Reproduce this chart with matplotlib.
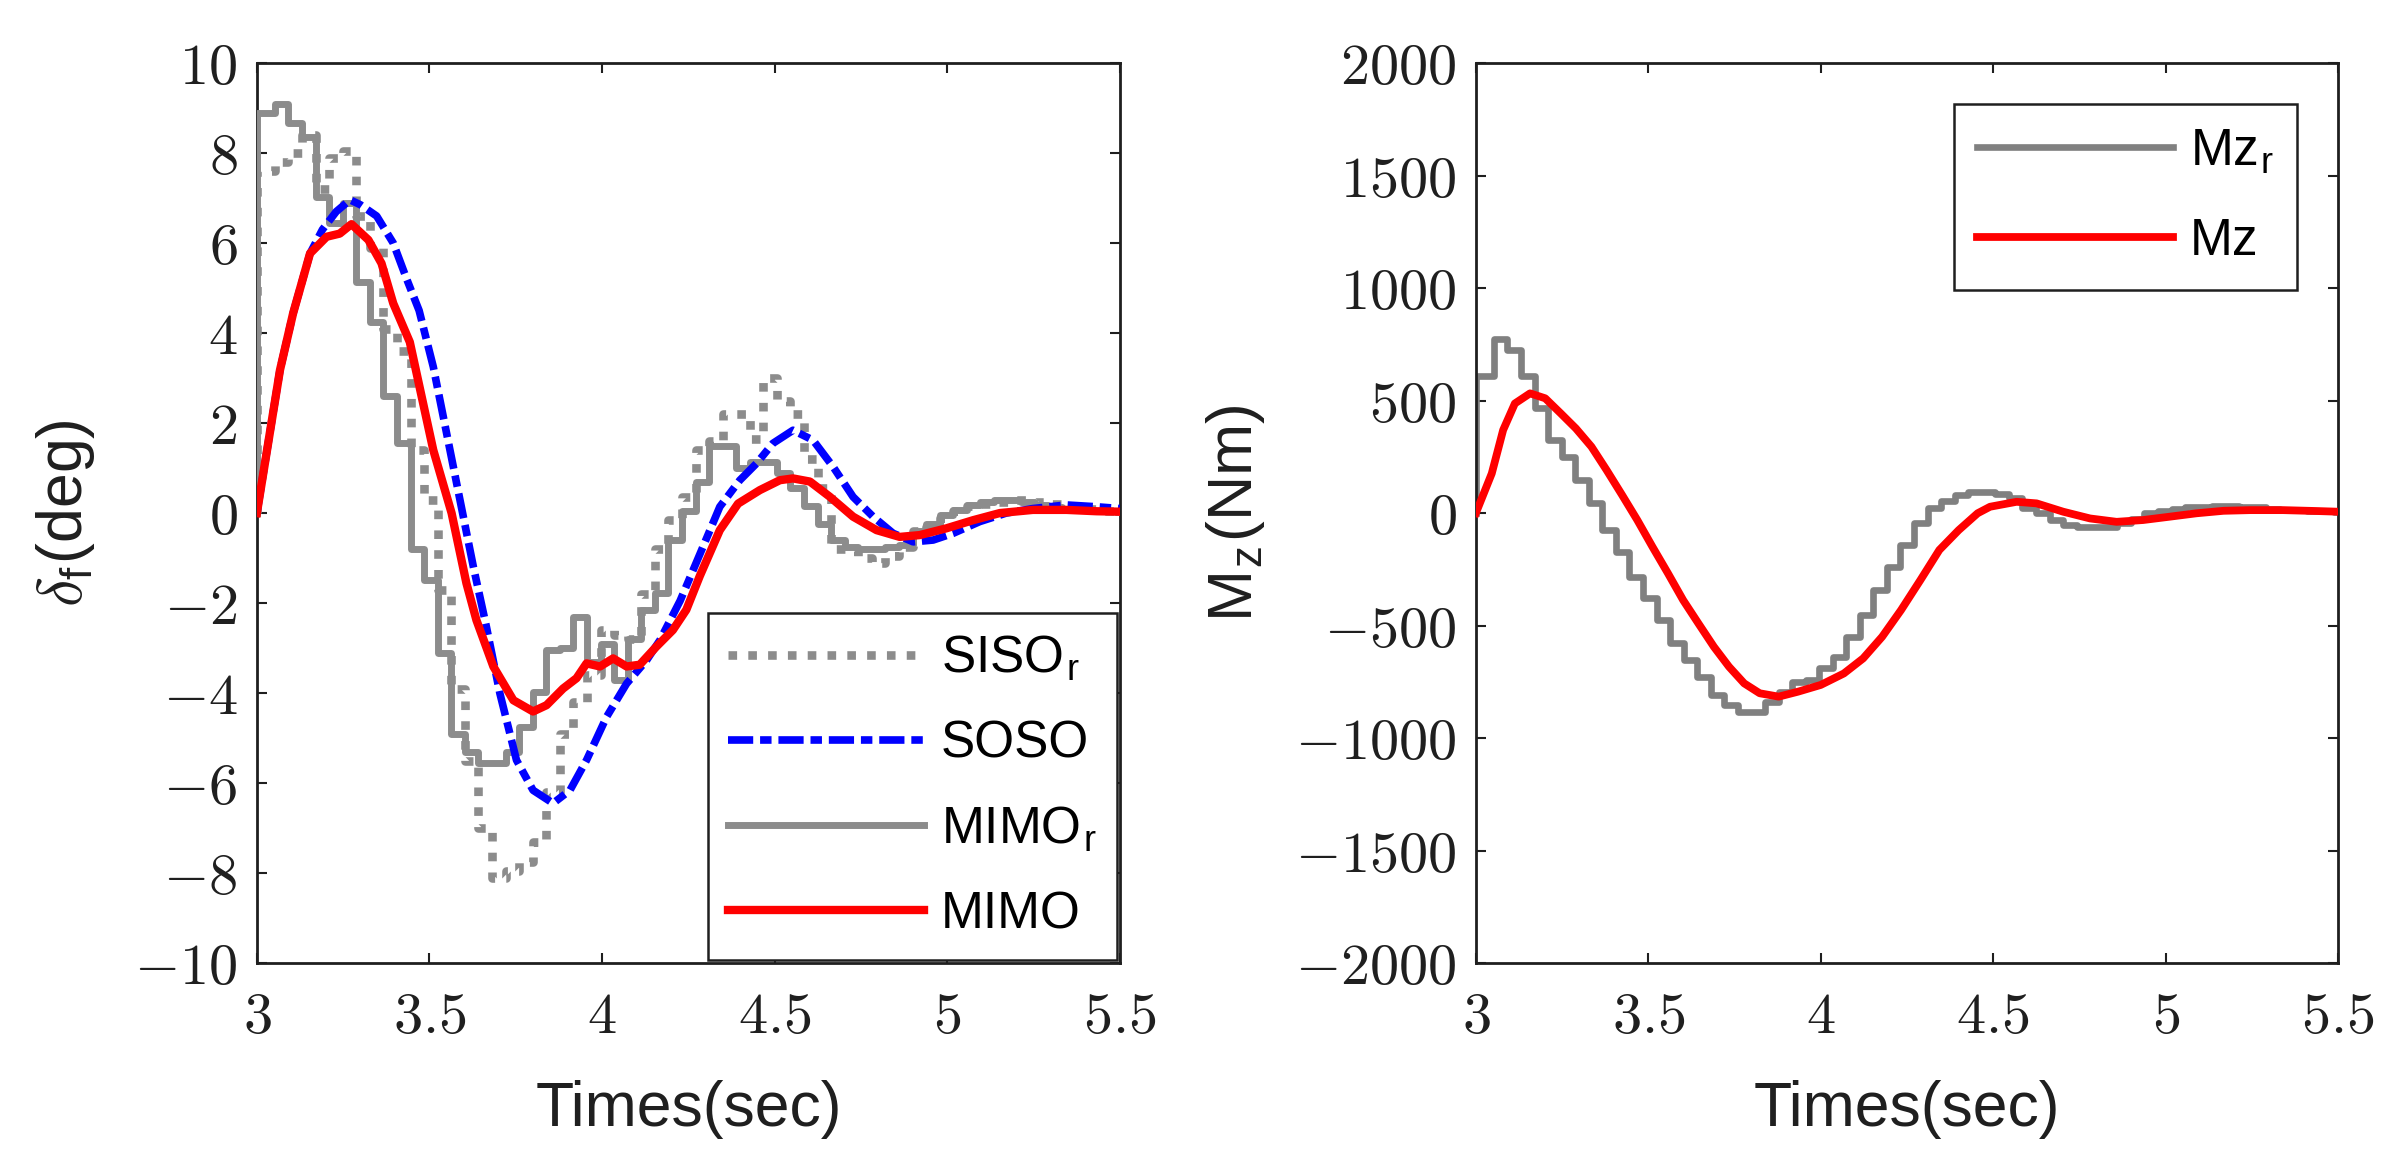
import numpy as np
import matplotlib
matplotlib.use('Agg')
import matplotlib.pyplot as plt
from matplotlib.ticker import FuncFormatter, MultipleLocator

plt.rcParams['font.family'] = ['Liberation Sans', 'DejaVu Sans']
plt.rcParams['mathtext.fontset'] = 'cm'

# controller sample instants (zero-order hold)
t_hold = np.concatenate([[3.0], 3.013 + 0.0393 * np.arange(1, 64)])

siso_r = [7.6, 7.8, 8.0, 8.4, 7.2, 7.9, 8.05, 6.6, 5.9, 4.1,
          3.6, 1.4, 0.3, -1.7, -3.9, -5.5, -7.0, -8.1, -7.95, -7.75,
          -7.3, -6.2, -4.9, -4.2, -3.6, -2.6, -2.7, -2.8, -1.8, -0.8,
          -0.15, 0.36, 1.4, 1.6, 2.2, 2.2, 1.65, 3.0, 2.5, 2.2,
          1.2, 0.55, -0.8, -0.85, -1.0, -1.1, -0.95, -0.75, -0.4, -0.3,
          -0.1, 0.05, 0.15, 0.2, 0.25, 0.3, 0.3, 0.25, 0.2, 0.15,
          0.1, 0.08, 0.05, 0.03]
mimo_r = [8.88, 9.09, 8.66, 8.36, 7.03, 6.44, 6.88, 5.14, 4.25, 2.6,
          1.55, -0.79, -1.49, -3.12, -4.9, -5.3, -5.56, -5.56, -5.3, -4.75,
          -3.97, -3.04, -3.0, -2.3, -3.3, -2.9, -3.7, -2.8, -2.16, -1.78,
          -0.6, 0.05, 0.7, 1.5, 1.5, 1.0, 1.14, 1.14, 0.9, 0.55,
          0.15, -0.25, -0.6, -0.75, -0.8, -0.8, -0.75, -0.7, -0.4, -0.25,
          -0.05, 0.07, 0.18, 0.25, 0.28, 0.28, 0.25, 0.18, 0.14, 0.1,
          0.07, 0.05, 0.04, 0.03]

t_soso = [3.0, 3.067, 3.105, 3.154, 3.19, 3.23, 3.27, 3.30, 3.347, 3.395,
          3.434, 3.47, 3.511, 3.569, 3.627, 3.665, 3.704, 3.752, 3.8, 3.858,
          3.907, 3.955, 4.013, 4.071, 4.129, 4.168, 4.226, 4.284, 4.341, 4.399,
          4.447, 4.495, 4.553, 4.611, 4.669, 4.727, 4.785, 4.843, 4.901, 4.959,
          5.017, 5.094, 5.171, 5.248, 5.345, 5.432, 5.5]
soso = [0.0, 3.18, 4.44, 5.77, 6.3, 6.7, 6.96, 6.85, 6.6, 6.0,
        5.2, 4.5, 3.25, 1.03, -1.19, -2.53, -4.01, -5.49, -6.16, -6.45,
        -6.16, -5.49, -4.53, -3.79, -3.27, -2.82, -1.95, -0.9, 0.14, 0.73,
        1.1, 1.55, 1.84, 1.62, 1.03, 0.36, -0.08, -0.45, -0.64, -0.6,
        -0.45, -0.19, 0.0, 0.1, 0.18, 0.14, 0.1]

t_mimo = [3.0, 3.067, 3.105, 3.154, 3.202, 3.24, 3.274, 3.323, 3.361, 3.395,
          3.443, 3.511, 3.564, 3.607, 3.636, 3.685, 3.743, 3.8, 3.839, 3.887,
          3.926, 3.955, 3.994, 4.032, 4.071, 4.109, 4.157, 4.205, 4.244, 4.283,
          4.341, 4.394, 4.457, 4.515, 4.553, 4.602, 4.66, 4.727, 4.795, 4.862,
          4.92, 4.997, 5.074, 5.152, 5.248, 5.345, 5.432, 5.5]
mimo = [0.0, 3.18, 4.44, 5.77, 6.14, 6.21, 6.42, 6.07, 5.55, 4.66,
        3.8, 1.4, 0.0, -1.56, -2.38, -3.41, -4.16, -4.41, -4.27, -3.9,
        -3.67, -3.34, -3.41, -3.23, -3.41, -3.37, -2.97, -2.6, -2.15, -1.4,
        -0.38, 0.21, 0.51, 0.73, 0.77, 0.7, 0.36, -0.08, -0.38, -0.53,
        -0.49, -0.34, -0.16, 0.0, 0.07, 0.07, 0.04, 0.03]

mz_r = [609, 772, 724, 609, 465, 324, 250, 147, 43, -76,
        -172, -283, -379, -476, -579, -653, -727, -809, -853, -886,
        -886, -839, -794, -750, -742, -690, -639, -550, -453, -342,
        -239, -142, -46, 21, 55, 80, 95, 95, 85, 65,
        21, 0, -31, -53, -61, -61, -61, -46, -25, 0,
        10, 18, 25, 28, 30, 30, 28, 25, 20, 15,
        12, 10, 8, 6]

t_mz = [3.0, 3.046, 3.079, 3.113, 3.157, 3.201, 3.246, 3.29, 3.335, 3.379,
        3.424, 3.468, 3.512, 3.557, 3.601, 3.645, 3.69, 3.734, 3.778, 3.823,
        3.878, 3.934, 4.0, 4.067, 4.123, 4.178, 4.233, 4.289, 4.344, 4.4,
        4.455, 4.491, 4.568, 4.626, 4.703, 4.781, 4.858, 4.935, 5.013, 5.09,
        5.168, 5.245, 5.341, 5.438, 5.5]
mz = [0, 176, 369, 487, 532, 510, 443, 376, 295, 191,
      80, -31, -150, -268, -387, -490, -594, -683, -757, -801,
      -816, -794, -764, -713, -646, -550, -431, -298, -164, -76,
      -1, 28, 50, 43, 6, -24, -39, -31, -16, -1,
      10, 13, 13, 9, 6]

x_ticks = [3, 3.5, 4, 4.5, 5, 5.5]

INK = '#1f1f1f'
GRAY = '#8c8c8c'


def drawHold(ax, vals, **kw):
    x = np.concatenate([[3.0], t_hold, [5.5]])
    y = np.concatenate([[0.0], vals, [vals[-1]]])
    return ax.plot(x, y, drawstyle='steps-post', **kw)[0]


def styleAxes(ax, ylim, ystep):
    ax.set_xlim(3, 5.5)
    ax.set_ylim(*ylim)
    ax.set_xticks(x_ticks)
    ax.yaxis.set_major_locator(MultipleLocator(ystep))
    fmt = FuncFormatter(lambda v, p: r'$%g$' % v)
    ax.xaxis.set_major_formatter(fmt)
    ax.yaxis.set_major_formatter(fmt)
    for s in ax.spines.values():
        s.set_linewidth(2.0)
        s.set_color(INK)
    ax.tick_params(direction='in', length=7, width=1.5, top=True, right=True,
                   labelsize=42, color=INK, labelcolor=INK)
    ax.tick_params(axis='x', pad=20)
    ax.tick_params(axis='y', pad=14)
    ax.set_xlabel('Times(sec)', fontsize=45, color=INK, labelpad=25)


fig = plt.figure(figsize=(23.94, 11.55), dpi=100)
ax1 = fig.add_axes([0.1073, 0.1662, 0.3605, 0.7792])
ax2 = fig.add_axes([0.6165, 0.1662, 0.3601, 0.7792])

h_siso = drawHold(ax1, siso_r, color=GRAY, lw=6.2, linestyle=(0, (1, 1.3)),
                  dash_capstyle='butt', zorder=2)
h_mimor = drawHold(ax1, mimo_r, color=GRAY, lw=5.0, zorder=3)
h_soso, = ax1.plot(t_soso, soso, color='#0000ff', lw=5.5,
                   linestyle=(0, (3.3, 0.9, 1.5, 0.9)), zorder=4)
h_mimo, = ax1.plot(t_mimo, mimo, color='#ff0000', lw=6.0, zorder=5)

styleAxes(ax1, (-10, 10), 2)
ax1.set_ylabel(r'$\delta_{\mathregular{f}}$(deg)', fontsize=45, color=INK, labelpad=27)
leg1 = ax1.legend([h_siso, h_soso, h_mimor, h_mimo],
                  [r'SISO$_{\mathregular{r}}$', 'SOSO', r'MIMO$_{\mathregular{r}}$', 'MIMO'],
                  loc='lower right', fontsize=37, fancybox=False, framealpha=1,
                  edgecolor=INK, borderaxespad=0.06, handlelength=3.8,
                  handletextpad=0.33, borderpad=0.4, labelspacing=0.7)
leg1.get_frame().set_linewidth(1.8)

h_mzr = drawHold(ax2, mz_r, color='#808080', lw=4.8, zorder=2)
h_mz, = ax2.plot(t_mz, mz, color='#ff0000', lw=5.6, zorder=3)

styleAxes(ax2, (-2000, 2000), 500)
ax2.set_ylabel(r'M$_{\mathregular{z}}$(Nm)', fontsize=45, color=INK, labelpad=20)
leg2 = ax2.legend([h_mzr, h_mz], [r'Mz$_{\mathregular{r}}$', 'Mz'],
                  loc='upper right', fontsize=37, fancybox=False, framealpha=1,
                  edgecolor=INK, borderaxespad=0.8, handlelength=3.8,
                  handletextpad=0.33, borderpad=0.45, labelspacing=0.8)
leg2.get_frame().set_linewidth(1.8)

fig.savefig('out.png', dpi=100)
